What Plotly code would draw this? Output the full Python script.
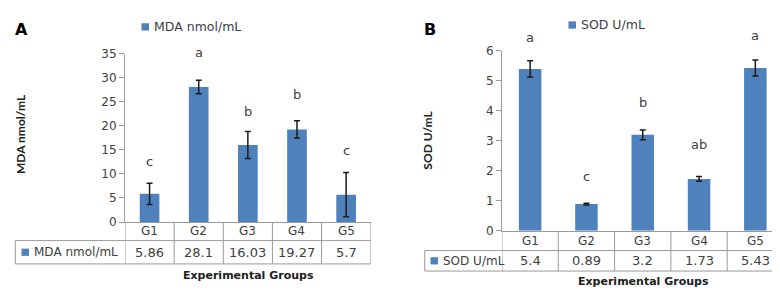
import plotly.graph_objects as go

W, H = 780, 291

groups = ["G1", "G2", "G3", "G4", "G5"]
mda_values = [5.86, 28.1, 16.03, 19.27, 5.7]
mda_errors = [2.2, 1.4, 2.8, 1.8, 4.6]
mda_letters = ["c", "a", "b", "b", "c"]
mda_letter_y = [12.6, 35.3, 22.9, 26.5, 14.8]
mda_ticks = [0, 5, 10, 15, 20, 25, 30, 35]

sod_values = [5.4, 0.89, 3.2, 1.73, 5.43]
sod_errors = [0.27, 0.03, 0.16, 0.08, 0.27]
sod_letters = ["a", "c", "b", "ab", "a"]
sod_letter_y = [6.46, 1.8, 4.29, 2.89, 6.5]
sod_ticks = [0, 1, 2, 3, 4, 5, 6]

series_a = "MDA nmol/mL"
series_b = "SOD U/mL"
x_title = "Experimental Groups"

BAR = "#4F81BD"
GRID = "#9a9a9a"
TXT = "#404040"
FONT = "DejaVu Sans, sans-serif"
VFONT = "Lato, sans-serif"


def px(x):
    return x / W


def py(y):
    return 1 - y / H


# panel geometry (pixels)
A = dict(x0=117, x1=362.7, y0=217.5, ytop=40.7, row1=237, row2=261.5, left=7.3,
         ymax=35, legx=133.5, legy=12.5, letx=13.5, ytitle_x=13, ytitle_y=125,
         xtitle_x=240.5, xtitle_y=273.5, sw_x=13.5, xa="x", ya="y")
B = dict(x0=494, x1=775.5, y0=226.7, ytop=37.7, row1=247.5, row2=269, left=416.7,
         ymax=6, legx=560.5, legy=10.5, letx=422, ytitle_x=420, ytitle_y=132,
         xtitle_x=635, xtitle_y=279.5, sw_x=422.5, xa="x2", ya="y2")

fig = go.Figure()
fig.add_trace(go.Bar(x=list(range(len(groups))), y=mda_values, width=0.4,
                     marker=dict(color=BAR, line=dict(width=0)),
                     error_y=dict(type="data", array=mda_errors, color="#1a1a1a",
                                  thickness=1.5, width=3),
                     xaxis="x", yaxis="y", showlegend=False))
fig.add_trace(go.Bar(x=list(range(len(groups))), y=sod_values, width=0.4,
                     marker=dict(color=BAR, line=dict(width=0)),
                     error_y=dict(type="data", array=sod_errors, color="#1a1a1a",
                                  thickness=1.5, width=3),
                     xaxis="x2", yaxis="y2", showlegend=False))

shapes = []
annotations = []

for P, ticks, letters, letter_y, values, name, panel in [
        (A, mda_ticks, mda_letters, mda_letter_y, mda_values, series_a, "A"),
        (B, sod_ticks, sod_letters, sod_letter_y, sod_values, series_b, "B")]:
    n = len(groups)
    xa, ya = P["xa"], P["ya"]
    # table horizontal lines
    for yy in (P["row1"], P["row2"]):
        shapes.append(dict(type="line", xref="paper", yref="paper",
                           x0=px(P["left"]), x1=px(P["x1"]), y0=py(yy), y1=py(yy),
                           line=dict(color=GRID, width=1)))
    shapes.append(dict(type="line", xref="paper", yref="paper",
                       x0=px(P["left"]), x1=px(P["left"]), y0=py(P["row1"]), y1=py(P["row2"]),
                       line=dict(color=GRID, width=1)))
    # vertical category boundaries
    for i in range(n + 1):
        shapes.append(dict(type="line", xref=xa, yref="paper",
                           x0=i - 0.5, x1=i - 0.5, y0=py(P["row2"]), y1=py(P["y0"]),
                           line=dict(color=GRID, width=1)))
    # category labels, values, significance letters
    for i, g in enumerate(groups):
        annotations.append(dict(x=i, y=py((P["y0"] + P["row1"]) / 2), xref=xa, yref="paper",
                                text=g, showarrow=False, font=dict(size=12, color=TXT, family=FONT),
                                xanchor="center", yanchor="middle"))
        annotations.append(dict(x=i, y=py((P["row1"] + P["row2"]) / 2), xref=xa, yref="paper",
                                text=f"{values[i]:g}", showarrow=False,
                                font=dict(size=13, color=TXT, family=FONT),
                                xanchor="center", yanchor="middle"))
        annotations.append(dict(x=i, y=letter_y[i] / P["ymax"], xref=xa, yref=ya + " domain",
                                text=letters[i], showarrow=False,
                                font=dict(size=13, color=TXT, family=FONT),
                                xanchor="center", yanchor="middle"))
    # row legend swatch + label
    rm = (P["row1"] + P["row2"]) / 2
    shapes.append(dict(type="rect", xref="paper", yref="paper",
                       x0=px(P["sw_x"]), x1=px(P["sw_x"] + 7.5), y0=py(rm + 3.8), y1=py(rm - 3.8),
                       fillcolor=BAR, line=dict(width=0)))
    annotations.append(dict(x=px(P["sw_x"] + 10), y=py(rm), xref="paper", yref="paper",
                            text=name, showarrow=False, font=dict(size=12, color=TXT, family=FONT),
                            xanchor="left", yanchor="middle"))
    # top legend
    shapes.append(dict(type="rect", xref="paper", yref="paper",
                       x0=px(P["legx"]), x1=px(P["legx"] + 7.5), y0=py(P["legy"] + 3.8),
                       y1=py(P["legy"] - 3.8), fillcolor=BAR, line=dict(width=0)))
    annotations.append(dict(x=px(P["legx"] + 10.5), y=py(P["legy"]), xref="paper", yref="paper",
                            text=name, showarrow=False, font=dict(size=12.5, color=TXT, family=FONT),
                            xanchor="left", yanchor="middle"))
    # panel letter
    annotations.append(dict(x=px(P["letx"]), y=py(15.5), xref="paper", yref="paper",
                            text=f"<b>{panel}</b>", showarrow=False,
                            font=dict(size=16, color="#000000", family=FONT),
                            xanchor="center", yanchor="middle"))
    # y title
    annotations.append(dict(x=px(P["ytitle_x"]), y=py(P["ytitle_y"]), xref="paper", yref="paper",
                            text=f"<b>{name}</b>", showarrow=False, textangle=-90,
                            font=dict(size=12, color="#202020", family=VFONT),
                            xanchor="center", yanchor="middle"))
    # x title
    annotations.append(dict(x=px(P["xtitle_x"]), y=py(P["xtitle_y"]), xref="paper", yref="paper",
                            text=f"<b>{x_title}</b>", showarrow=False,
                            font=dict(size=11, color="#202020", family=FONT),
                            xanchor="center", yanchor="middle"))


def xaxis(P):
    return dict(domain=[px(P["x0"]), px(P["x1"])], range=[-0.5, len(groups) - 0.5],
                showticklabels=False, ticks="", showline=True, linecolor=GRID, linewidth=1,
                showgrid=False, zeroline=False, fixedrange=True)


def yaxis(P, ticks, anchor):
    return dict(domain=[py(P["y0"]), py(P["ytop"])], range=[0, P["ymax"]],
                tickvals=ticks, ticks="outside", ticklen=5, tickcolor=GRID,
                showline=True, linecolor=GRID, linewidth=1, showgrid=False,
                zeroline=False, anchor=anchor,
                tickfont=dict(size=12, color=TXT, family=FONT), fixedrange=True)


fig.update_layout(
    width=W, height=H, margin=dict(l=0, r=0, t=0, b=0),
    paper_bgcolor="white", plot_bgcolor="white",
    xaxis=dict(xaxis(A), anchor="y"),
    yaxis=yaxis(A, mda_ticks, "x"),
    xaxis2=dict(xaxis(B), anchor="y2"),
    yaxis2=yaxis(B, sod_ticks, "x2"),
    shapes=shapes, annotations=annotations, showlegend=False,
)

fig.write_html("out.html")
